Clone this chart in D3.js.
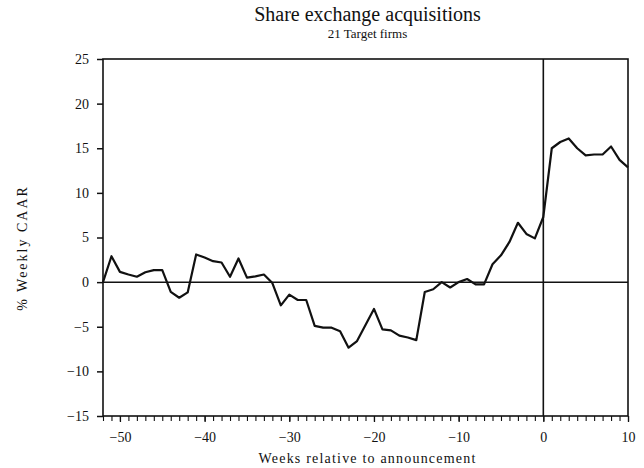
<!DOCTYPE html>
<html><head><meta charset="utf-8">
<script src="https://cdn.jsdelivr.net/npm/d3@7"></script>
<style>body{margin:0;background:#fff;} svg{display:block;} text{font-family:"Liberation Serif","Times New Roman",serif;fill:#111;}</style>
</head><body>
<svg id="c" width="644" height="468"></svg>
<script>
const weeks = d3.range(-52, 11);
const caar = [
  0, 2.9, 1.15, 0.85, 0.6, 1.1, 1.35, 1.35, -1.1, -1.75, -1.15,
  3.1, 2.75, 2.35, 2.2, 0.6, 2.65, 0.5, 0.65, 0.85, -0.1,
  -2.6, -1.4, -2.0, -2.0, -4.9, -5.1, -5.1, -5.5, -7.35, -6.6,
  -4.8, -3.0, -5.3, -5.4, -6.0, -6.2, -6.5, -1.1, -0.8, 0.0,
  -0.6, 0.0, 0.35, -0.25, -0.25, 2.0, 3.0, 4.5, 6.65, 5.4,
  4.9, 7.3, 15.0, 15.7, 16.1, 15.0, 14.2, 14.3, 14.3, 15.2, 13.7, 12.85
];
const yTicks = [-15, -10, -5, 0, 5, 10, 15, 20, 25];
const xTicks = [-50, -40, -30, -20, -10, 0, 10];
const title = "Share exchange acquisitions";
const subtitle = "21 Target firms";
const xTitle = "Weeks relative to announcement";
const yTitle = "% Weekly CAAR";

const svg = d3.select("#c");
const L = 103, R = 628, T = 59, B = 416;
const x = d3.scaleLinear().domain([-52, 10]).range([L, R]);
const y = d3.scaleLinear().domain([-15, 25]).range([B, T]);

// frame
svg.append("rect").attr("x", L).attr("y", T).attr("width", R - L).attr("height", B - T)
  .attr("fill", "none").attr("stroke", "#111").attr("stroke-width", 1.6);

// zero line and announcement line
svg.append("line").attr("x1", L).attr("x2", R).attr("y1", y(0)).attr("y2", y(0))
  .attr("stroke", "#111").attr("stroke-width", 1.5);
svg.append("line").attr("x1", x(0)).attr("x2", x(0)).attr("y1", T).attr("y2", B)
  .attr("stroke", "#111").attr("stroke-width", 1.6);

// y axis
const yAxis = d3.axisLeft(y).tickValues(yTicks).tickSize(6).tickPadding(8).tickFormat(d3.format("d"));
const gy = svg.append("g").attr("transform", `translate(${L},0)`).call(yAxis);
gy.select(".domain").remove();
gy.selectAll("line").attr("stroke", "#111").attr("stroke-width", 1.5);
gy.selectAll("text").style("font-size", "14px").style("font-family", "'Liberation Serif',serif").attr("fill", "#111");

// x axis minor ticks
const gxm = svg.append("g").attr("transform", `translate(0,${B})`)
  .call(d3.axisBottom(x).tickValues(weeks).tickSize(5).tickFormat(""));
gxm.select(".domain").remove();
gxm.selectAll("line").attr("stroke", "#111").attr("stroke-width", 1.1);

// x axis labels
const gx = svg.append("g").attr("transform", `translate(0,${B})`)
  .call(d3.axisBottom(x).tickValues(xTicks).tickSize(6).tickPadding(10).tickFormat(d3.format("d")));
gx.select(".domain").remove();
gx.selectAll("line").attr("stroke", "#111").attr("stroke-width", 1.3);
gx.selectAll("text").style("font-size", "14px").style("font-family", "'Liberation Serif',serif").attr("fill", "#111");

// line
const line = d3.line().x((d, i) => x(weeks[i])).y(d => y(d));
svg.append("path").datum(caar).attr("d", line).attr("fill", "none")
  .attr("stroke", "#111").attr("stroke-width", 2.2).attr("stroke-linejoin", "round");

// titles
const cx = (L + R) / 2;
svg.append("text").attr("x", cx + 2).attr("y", 21).attr("text-anchor", "middle")
  .style("font-size", "20px").text(title);
svg.append("text").attr("x", cx + 2).attr("y", 38).attr("text-anchor", "middle")
  .style("font-size", "13px").text(subtitle);
svg.append("text").attr("x", cx + 2).attr("y", 463).attr("text-anchor", "middle")
  .style("font-size", "14px").style("letter-spacing", "1.2px").text(xTitle);
svg.append("text").attr("transform", `translate(27,248) rotate(-90)`).attr("text-anchor", "middle")
  .style("font-size", "14px").style("letter-spacing", "2px").text(yTitle);
</script>
</body></html>
